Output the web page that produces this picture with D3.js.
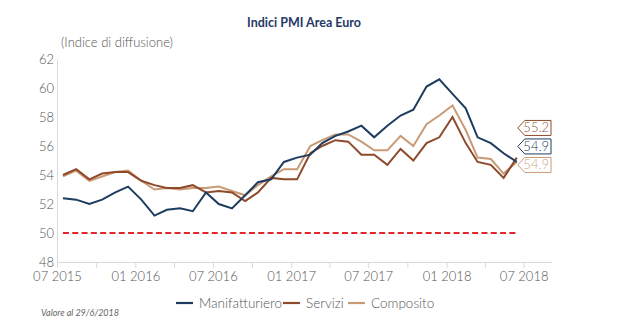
<!DOCTYPE html>
<html>
<head>
<meta charset="utf-8">
<script src="https://cdn.jsdelivr.net/npm/d3@7"></script>
<style>
  html, body { margin: 0; padding: 0; background: #ffffff; }
  svg { display: block; font-family: "Lato", "Open Sans", sans-serif; }
  .light { font-weight: 300; }
</style>
</head>
<body>
<svg id="chart" width="617" height="324"></svg>
<script>
// Monthly PMI readings, 07/2015 - 06/2018
const months = [
  "2015-07","2015-08","2015-09","2015-10","2015-11","2015-12",
  "2016-01","2016-02","2016-03","2016-04","2016-05","2016-06",
  "2016-07","2016-08","2016-09","2016-10","2016-11","2016-12",
  "2017-01","2017-02","2017-03","2017-04","2017-05","2017-06",
  "2017-07","2017-08","2017-09","2017-10","2017-11","2017-12",
  "2018-01","2018-02","2018-03","2018-04","2018-05","2018-06"
];
const manifatturiero = [
  52.4, 52.3, 52.0, 52.3, 52.8, 53.2,
  52.3, 51.2, 51.6, 51.7, 51.5, 52.8,
  52.0, 51.7, 52.6, 53.5, 53.7, 54.9,
  55.2, 55.4, 56.2, 56.7, 57.0, 57.4,
  56.6, 57.4, 58.1, 58.5, 60.1, 60.6,
  59.6, 58.6, 56.6, 56.2, 55.5, 54.9
];
const servizi = [
  54.0, 54.4, 53.7, 54.1, 54.2, 54.2,
  53.6, 53.3, 53.1, 53.1, 53.3, 52.8,
  52.9, 52.8, 52.2, 52.8, 53.8, 53.7,
  53.7, 55.5, 56.0, 56.4, 56.3, 55.4,
  55.4, 54.7, 55.8, 55.0, 56.2, 56.6,
  58.0, 56.2, 54.9, 54.7, 53.8, 55.2
];
const composito = [
  53.9, 54.3, 53.6, 53.9, 54.2, 54.3,
  53.6, 53.0, 53.1, 53.0, 53.1, 53.1,
  53.2, 52.9, 52.6, 53.3, 53.9, 54.4,
  54.4, 56.0, 56.4, 56.8, 56.8, 56.3,
  55.7, 55.7, 56.7, 56.0, 57.5, 58.1,
  58.8, 57.1, 55.2, 55.1, 54.1, 54.9
];
const seriesNames = ["Manifatturiero", "Servizi", "Composito"];
const seriesColors = ["#1d3c5f", "#8e4a2b", "#c89a75"];
const labelTextColors = ["#1d3c5f", "#8e5a3e", "#c8a58a"];
const yTicks = [48, 50, 52, 54, 56, 58, 60, 62];
const threshold = 50;

const svg = d3.select("#chart");
const parseMonth = d3.timeParse("%Y-%m");
// each monthly value sits at mid-month
const dates = months.map(m => d3.timeDay.offset(parseMonth(m), 14));

const x = d3.scaleTime()
  .domain([new Date(2015, 6, 1), new Date(2018, 8, 1)])
  .range([57, 550]);
const y = d3.scaleLinear().domain([48, 62]).range([262, 59]);

// Title and unit note
svg.append("text")
  .attr("x", 304).attr("y", 27)
  .attr("text-anchor", "middle")
  .attr("font-size", 12.5).attr("font-weight", 700)
  .attr("fill", "#1f3a66")
  .text("Indici PMI Area Euro");
svg.append("text").attr("class", "light")
  .attr("x", 61).attr("y", 47)
  .attr("font-size", 13).attr("fill", "#555")
  .text("(Indice di diffusione)");

// Y axis
const yAxis = svg.append("g").attr("transform", "translate(57,0)")
  .call(d3.axisLeft(y).tickValues(yTicks).tickSize(0).tickPadding(3).tickFormat(d3.format("d")));
yAxis.select(".domain").attr("stroke", "#d9d9d9");
yAxis.selectAll("text").attr("class", "light").attr("font-size", 13).attr("fill", "#555").attr("font-family", "Lato, sans-serif");

// X axis: ticks every quarter, labels every half-year
const quarterTicks = d3.timeMonth.every(3).range(new Date(2015, 6, 1), new Date(2018, 8, 2));
const xAxis = svg.append("g").attr("transform", "translate(0,262)")
  .call(d3.axisBottom(x).tickValues(quarterTicks).tickSize(6).tickPadding(4)
    .tickFormat(d => (d.getMonth() % 6 === 0) ? d3.timeFormat("%m %Y")(d) : ""));
xAxis.select(".domain").attr("stroke", "#d9d9d9").attr("d", "M57,0.5H552");
xAxis.selectAll(".tick line").attr("stroke", "#d9d9d9");
xAxis.selectAll("text").attr("class", "light").attr("font-size", 13).attr("fill", "#555").attr("font-family", "Lato, sans-serif");

// Expansion threshold
const thresholdLine = d3.line().x(d => x(d)).y(() => y(threshold));
svg.append("path")
  .attr("d", thresholdLine([dates[0], dates[dates.length - 1]]))
  .attr("fill", "none").attr("stroke", "#e3262c")
  .attr("stroke-width", 2.2).attr("stroke-dasharray", "6,3.3");

// Series lines (composite drawn first so the others sit above it)
const allSeries = [manifatturiero, servizi, composito];
const line = d3.line().x((d, i) => x(dates[i])).y(d => y(d));
[2, 1, 0].forEach(k => {
  svg.append("path")
    .attr("d", line(allSeries[k]))
    .attr("fill", "none")
    .attr("stroke", seriesColors[k])
    .attr("stroke-width", 2)
    .attr("stroke-linejoin", "miter");
});

// End-value tags, stacked upward so they do not overlap
const last = dates.length - 1;
const tags = allSeries.map((s, k) => ({ k, value: s[last], cy: y(s[last]) + 3 }));
const order = [2, 0, 1];
let prev = null;
order.forEach(k => {
  const t = tags[k];
  if (prev !== null && t.cy > prev - 18.5) t.cy = prev - 18.5;
  prev = t.cy;
});
const tipX = x(dates[last]) + 1;
const boxR = 551, h = 7.5;
tags.forEach(t => {
  const g = svg.append("g");
  g.append("path")
    .attr("d", `M${tipX},${t.cy} L${tipX + 7},${t.cy - h} H${boxR} V${t.cy + h} H${tipX + 7} Z`)
    .attr("fill", "#fff").attr("stroke", seriesColors[t.k]).attr("stroke-width", 1);
  g.append("text").attr("class", "light")
    .attr("x", boxR - 2).attr("y", t.cy + 4.5)
    .attr("text-anchor", "end")
    .attr("font-size", 13).attr("fill", labelTextColors[t.k])
    .text(d3.format(".1f")(t.value));
});

// Legend
const legendX = [176, 283, 348];
seriesNames.forEach((name, k) => {
  const g = svg.append("g").attr("transform", `translate(${legendX[k]},303)`);
  g.append("line").attr("x1", 0).attr("x2", 17).attr("y1", 0).attr("y2", 0)
    .attr("stroke", seriesColors[k]).attr("stroke-width", 2.2);
  g.append("text").attr("class", "light").attr("x", 23).attr("y", 4.5)
    .attr("font-size", 13.5).attr("fill", "#555").text(name);
});

// Source note
svg.append("text")
  .attr("x", 41).attr("y", 316)
  .attr("font-size", 9).attr("font-style", "italic").attr("fill", "#666")
  .text("Valore al 29/6/2018");
</script>
</body>
</html>
